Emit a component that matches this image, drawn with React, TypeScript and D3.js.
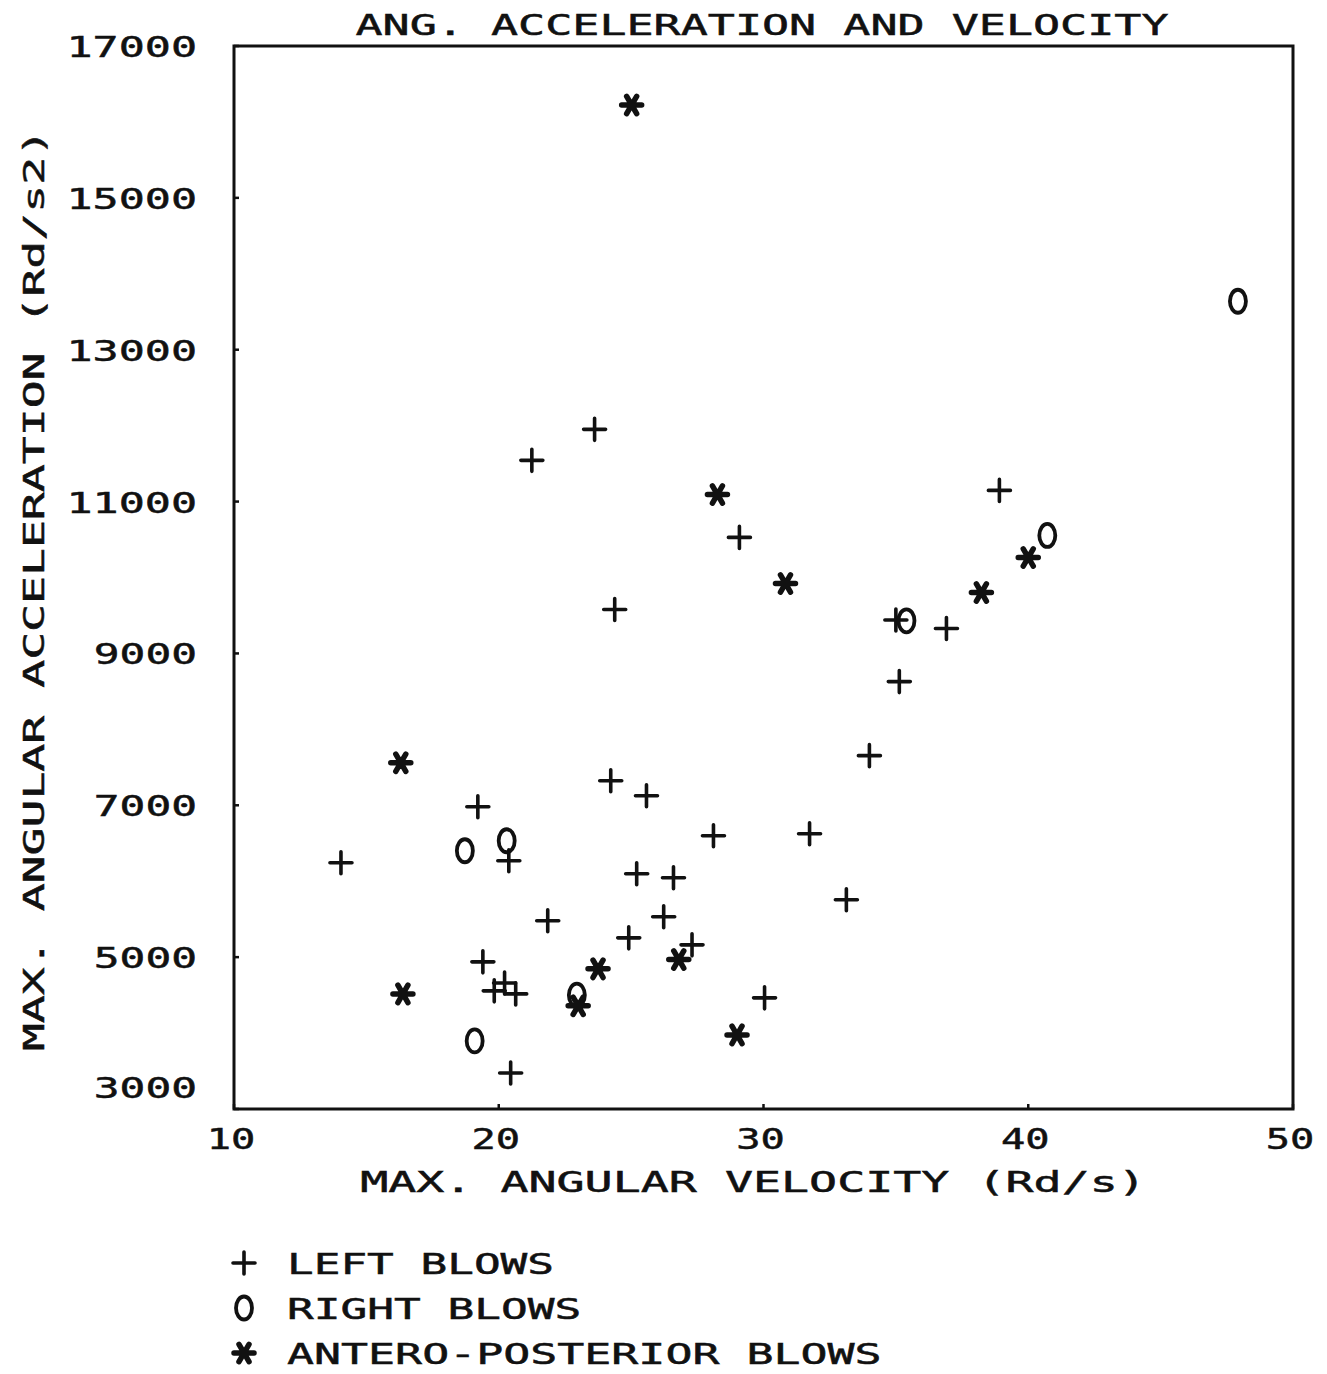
import React from "react";
import * as d3 from "d3";

const leftVel = [14.04, 19.21, 19.4, 20.38, 21.25, 23.62, 24.38, 21.85, 19.83, 20.22, 20.64, 20.45, 24.23, 25.58, 25.21, 26.6, 26.23, 24.91, 27.3, 28.11, 29.09, 30.04, 31.74, 33.13, 34.0, 35.13, 35.0, 36.91, 38.91];
const leftAcc = [6243, 6981, 4938, 6270, 11543, 11951, 9578, 5479, 4556, 4660, 4516, 3475, 7324, 7126, 6098, 6045, 5531, 5254, 5162, 6599, 10528, 4464, 6625, 5756, 7654, 8629, 9440, 9328, 11147];

const rightVel = [18.72, 20.3, 19.09, 22.95, 35.4, 40.72, 47.92];
const rightAcc = [6401, 6533, 3897, 4500, 9430, 10554, 13638];

const apVel = [25.02, 16.3, 16.38, 28.26, 30.83, 38.23, 40.0, 23.75, 26.8, 23.0, 29.0];
const apAcc = [16222, 7561, 4516, 11094, 9921, 9802, 10264, 4846, 4970, 4360, 3976];

const xTicks = [10, 20, 30, 40, 50];
const yTicks = [3000, 5000, 7000, 9000, 11000, 13000, 15000, 17000];

const titleText = "ANG. ACCELERATION AND VELOCITY";
const xTitle = "MAX. ANGULAR VELOCITY  (Rd/s)";
const yTitle = "MAX. ANGULAR ACCELERATION  (Rd/s2)";
const legendLabels = ["LEFT BLOWS", "RIGHT BLOWS", "ANTERO-POSTERIOR BLOWS"];
const legendKinds = ["plus", "circle", "star"];

const FONT = "'DejaVu Sans Mono', monospace";
const ADV = 27.3;

function Marker({ kind, x, y }: { kind: string; x: number; y: number }) {
  if (kind === "plus") {
    return (
      <path d={`M${x - 11},${y}H${x + 11}M${x},${y - 11}V${y + 11}`} stroke="#111" strokeWidth={3.6} strokeLinecap="round" fill="none" />
    );
  }
  if (kind === "circle") {
    return <ellipse cx={x} cy={y} rx={8} ry={11.5} stroke="#111" strokeWidth={3.8} fill="none" />;
  }
  const r = 10;
  const lines = [0, 60, 120].map((a) => {
    const rad = (a * Math.PI) / 180;
    const dx = r * Math.cos(rad);
    const dy = r * Math.sin(rad);
    return `M${x - dx},${y - dy}L${x + dx},${y + dy}`;
  });
  return <path d={lines.join("")} stroke="#111" strokeWidth={5.5} strokeLinecap="round" fill="none" />;
}

function T({ x, y, text, anchor = "start", rotate = 0 }: { x: number; y: number; text: string; anchor?: string; rotate?: number }) {
  return (
    <text
      x={x}
      y={y}
      textAnchor={anchor as any}
      fontFamily={FONT}
      fontSize={29}
      fill="#111"
      stroke="#111"
      strokeWidth={0.5}
      textLength={text.length * ADV - 6}
      lengthAdjust="spacingAndGlyphs"
      transform={rotate ? `rotate(${rotate},${x},${y})` : undefined}
    >
      {text}
    </text>
  );
}

export default function App() {
  const W = 1327;
  const H = 1374;
  const x = d3.scaleLinear().domain([10, 50]).range([234, 1293]);
  const y = d3.scaleLinear().domain([3000, 17000]).range([1109, 46]);

  const series = [
    { kind: "plus", vx: leftVel, vy: leftAcc },
    { kind: "circle", vx: rightVel, vy: rightAcc },
    { kind: "star", vx: apVel, vy: apAcc },
  ];

  return (
    <svg width={W} height={H} style={{ position: "absolute", left: 0, top: 0, background: "#fff" }}>
      <rect x={0} y={0} width={W} height={H} fill="#fff" />
      <T x={762} y={35} text={titleText} anchor="middle" />
      <rect
        x={x(10)}
        y={y(17000)}
        width={x(50) - x(10)}
        height={y(3000) - y(17000)}
        fill="none"
        stroke="#111"
        strokeWidth={3}
      />
      {yTicks.map((t) => (
        <g key={"y" + t}>
          <line x1={x(10)} x2={x(10) + 5} y1={y(t)} y2={y(t)} stroke="#111" strokeWidth={2.5} />
          <T x={197} y={y(t) + 11 - (t === 3000 ? 22 : 0)} text={String(t)} anchor="end" />
        </g>
      ))}
      {xTicks.map((t) => (
        <g key={"x" + t}>
          <line x1={x(t)} x2={x(t)} y1={y(3000)} y2={y(3000) - 5} stroke="#111" strokeWidth={2.5} />
          <T x={x(t) - 3} y={1149} text={String(t)} anchor="middle" />
        </g>
      ))}
      <T x={753} y={1192} text={xTitle} anchor="middle" />
      <T x={44} y={590} text={yTitle} anchor="middle" rotate={-90} />
      {series.map((s) =>
        s.vx.map((v, i) => <Marker key={s.kind + i} kind={s.kind} x={x(v)} y={y(s.vy[i])} />)
      )}
      {legendLabels.map((lab, i) => (
        <g key={lab}>
          <Marker kind={legendKinds[i]} x={244} y={1263 + i * 45} />
          <T x={287} y={1274 + i * 45} text={lab} />
        </g>
      ))}
    </svg>
  );
}
